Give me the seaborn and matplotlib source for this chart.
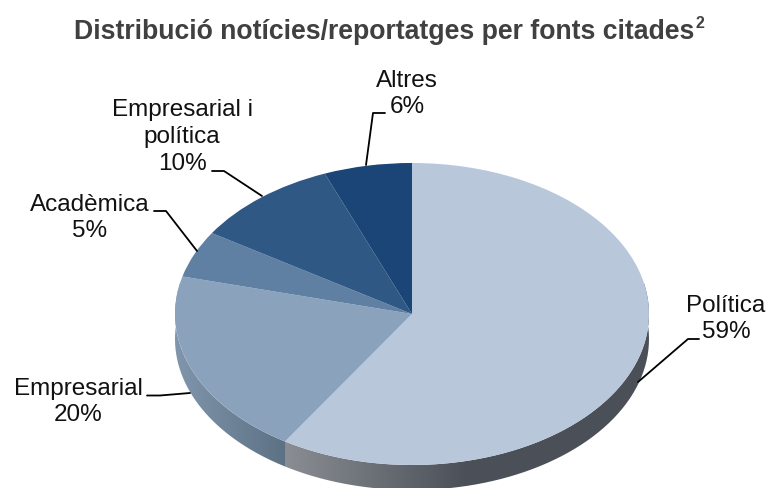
import numpy as np
import matplotlib
matplotlib.use("Agg")
import matplotlib.pyplot as plt
from matplotlib.path import Path
from matplotlib.patches import PathPatch
from matplotlib.colors import LinearSegmentedColormap
import seaborn as sns

categories = ["Política", "Empresarial", "Acadèmica", "Empresarial i\npolítica", "Altres"]
values = [59, 20, 5, 10, 6]
hex_colors = ["#b9c7da", "#8ba2bc", "#5f7fa3", "#2f5884", "#1a4576"]

W, H, DPI = 768, 489, 100
CX, CY, RX, RY, DEPTH_PX = 412, 315, 237, 151, 25

sns.set_theme(style="white")
plt.rcParams["font.family"] = ["Liberation Sans", "DejaVu Sans"]
palette = sns.color_palette(hex_colors)

fig = plt.figure(figsize=(W / DPI, H / DPI), dpi=DPI, facecolor="white")
ax = fig.add_axes([0, 0, 1, 1])
depth = DEPTH_PX / RY

wedges, _ = ax.pie(values, colors=palette, startangle=90, counterclock=False,
                   radius=1, wedgeprops=dict(linewidth=0, zorder=5))
ax.set_aspect("auto")
ax.set_xlim(-CX / RX, (W - CX) / RX)
ax.set_ylim(-(H - CY) / RY, CY / RY)
ax.axis("off")


def side_band(t1, t2):
    t = np.radians(np.linspace(t1, t2, 200))
    x, y = np.cos(t), np.sin(t)
    verts = np.r_[np.c_[x, y], np.c_[x[::-1], y[::-1] - depth], [[x[0], y[0]]]]
    return Path(verts)


xlim, ylim = ax.get_xlim(), ax.get_ylim()
grad = np.linspace(0, 1, 256)[None, :]

# Política side: lighter at its lower-left edge, dark toward the right
w = wedges[0]
band = PathPatch(side_band(w.theta1, w.theta2), facecolor="none", edgecolor="none", transform=ax.transData)
ax.add_patch(band)
x0 = np.cos(np.radians(w.theta1))
cmap = LinearSegmentedColormap.from_list("pol", ["#8a8e94", "#4b5058", "#4b5058"])
im = ax.imshow(grad, extent=[x0, 1.0, -1.3, 0.2], cmap=cmap, aspect="auto", zorder=2)
im.set_clip_path(band)

# Empresarial side: lighter on the left, darker toward the Política edge
w = wedges[1]
band2 = PathPatch(side_band(w.theta1, w.theta2), facecolor="none", edgecolor="none", transform=ax.transData)
ax.add_patch(band2)
cmap2 = LinearSegmentedColormap.from_list("emp", ["#8096ac", "#5d7184"])
im2 = ax.imshow(grad, extent=[-1.0, x0, -1.3, 0.2], cmap=cmap2, aspect="auto", zorder=3)
im2.set_clip_path(band2)
ax.set_xlim(xlim)
ax.set_ylim(ylim)


def fx(px):
    return px / W


def fy(py):
    return 1 - py / H


labels = [
    ("Política\n59%", 726, 319),
    ("Empresarial\n20%", 78, 402),
    ("Acadèmica\n5%", 90, 218),
    ("Empresarial i\npolítica\n10%", 182, 137),
    ("Altres\n6%", 407, 94),
]
for txt, px, py in labels:
    fig.text(fx(px), fy(py), txt, ha="center", va="center", fontsize=17.5,
             color="#111111", linespacing=1.27, zorder=10)

leaders = [
    [(638, 383), (688, 340), (699, 340)],
    [(190, 394), (160, 396.5), (147, 396.5)],
    [(197, 252), (166, 212), (154, 212)],
    [(262, 197), (224, 172), (212, 172)],
    [(366, 166), (373, 114), (385, 114)],
]
for pts in leaders:
    xs = [fx(p[0]) for p in pts]
    ys = [fy(p[1]) for p in pts]
    fig.add_artist(plt.Line2D(xs, ys, color="black", lw=1.3, transform=fig.transFigure, zorder=9))

fig.text(fx(384), fy(32), "Distribució notícies/reportatges per fonts citades",
         ha="center", va="center", fontsize=19.2, fontweight="bold", color="#404040")
fig.text(fx(700), fy(24), "2", ha="center", va="center", fontsize=11.5, fontweight="bold", color="#404040")

fig.savefig("out.png", dpi=DPI, facecolor="white")
